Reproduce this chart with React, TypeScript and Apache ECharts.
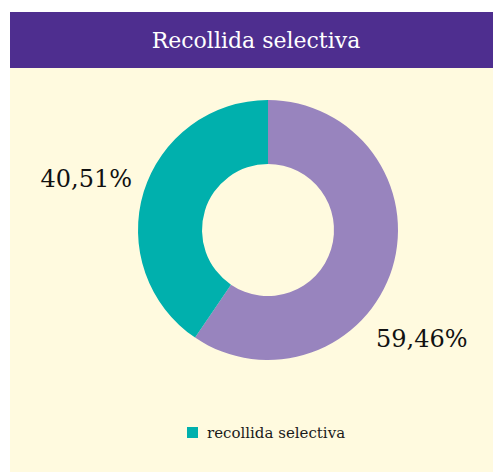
import React, { useEffect, useRef } from "react";
import * as echarts from "echarts";

const titleText = "Recollida selectiva";
const sliceNames = ["fracció resta", "recollida selectiva"];
const sliceValues = [59.46, 40.51];
const sliceColors = ["#9884BE", "#00B0AD"];
const legendNames = ["recollida selectiva"];

const FONT = "DejaVu Serif";

export default function App() {
  const ref = useRef<HTMLDivElement>(null);
  useEffect(() => {
    document.body.style.overflow = "hidden";
    const chart = echarts.init(ref.current!, null, { renderer: "svg" });
    chart.setOption({
      animation: false,
      backgroundColor: "#FFFADF",
      textStyle: { fontFamily: FONT },
      graphic: [
        {
          type: "rect",
          left: 0,
          top: 0,
          z: -1,
          shape: { width: 492, height: 56 },
          style: { fill: "#4E2E8F" },
        },
      ],
      title: {
        text: titleText,
        left: "center",
        top: 17,
        padding: 0,
        textStyle: {
          color: "#ffffff",
          fontSize: 22,
          fontWeight: "normal",
          fontFamily: FONT,
        },
      },
      legend: {
        data: legendNames,
        left: 177,
        top: 413,
        padding: 0,
        icon: "rect",
        itemWidth: 11,
        itemHeight: 11,
        textStyle: {
          fontSize: 15,
          color: "#1a1a1a",
          fontFamily: FONT,
          padding: [0, 0, 0, 4],
        },
      },
      series: [
        {
          type: "pie",
          center: [258, 218],
          radius: [66, 130],
          startAngle: 90,
          clockwise: true,
          label: {
            show: true,
            position: "inside",
            overflow: "none",
            fontSize: 24,
            color: "#111111",
            fontFamily: FONT,
            formatter: (p: any) => `${p.value.toFixed(2).replace(".", ",")}%`,
          },
          labelLine: { show: false },
          labelLayout: (p: any) =>
            p.dataIndex === 0
              ? { x: 366, y: 327, align: "left", verticalAlign: "middle" }
              : { x: 122, y: 167, align: "right", verticalAlign: "middle" },
          emphasis: { disabled: true },
          data: sliceNames.map((n, i) => ({
            name: n,
            value: sliceValues[i],
            itemStyle: { color: sliceColors[i] },
          })),
        },
      ],
    });
    return () => chart.dispose();
  }, []);
  return (
    <div
      ref={ref}
      style={{ position: "fixed", left: 10, top: 12, width: 492, height: 460 }}
    />
  );
}
